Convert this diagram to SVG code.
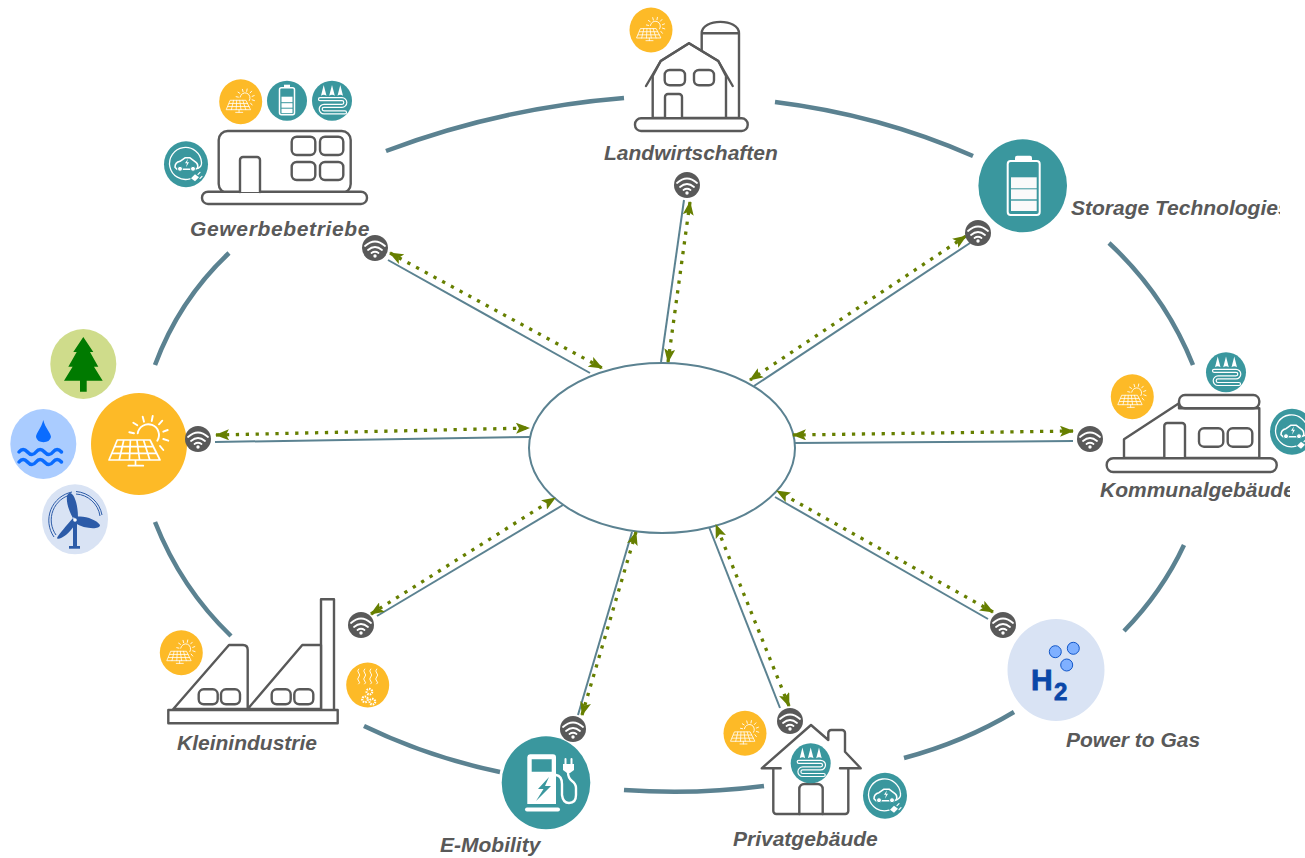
<svg xmlns="http://www.w3.org/2000/svg" width="1305" height="858" viewBox="0 0 1305 858">
<style>
.b{fill:#fff;stroke:#595959;stroke-width:2.4;stroke-linejoin:round;stroke-linecap:round}
.n{fill:none;stroke:#595959;stroke-width:2.4;stroke-linejoin:round;stroke-linecap:round}
.t{font-family:"Liberation Sans",Arial,sans-serif;font-weight:700;font-style:italic;font-size:21px;fill:#595959}
.ring{fill:none;stroke:#5b8291;stroke-width:4.5}
.spoke{fill:none;stroke:#5b8291;stroke-width:2}
.flow{fill:none;stroke:#667f00;stroke-width:3.3;stroke-dasharray:3.3 6.6;marker-start:url(#ah);marker-end:url(#ah)}
.w{fill:none;stroke:#fff;stroke-linecap:round;stroke-linejoin:round}
.wf{fill:#fff}
.h2{font-family:"Liberation Sans",Arial,sans-serif;font-weight:700;fill:#0a47a8;stroke:#0a47a8;stroke-width:.8}
</style>
<defs>
<marker id="ah" markerUnits="userSpaceOnUse" viewBox="0 0 14 11" markerWidth="14" markerHeight="11" refX="13" refY="5.5" orient="auto-start-reverse">
<path d="M0,0 L14,5.5 L0,11 L3,5.5z" fill="#667f00"/>
</marker>
<clipPath id="clipS"><rect x="1060" y="190" width="220" height="40"/></clipPath>
<clipPath id="clipK"><rect x="1090" y="475" width="200" height="35"/></clipPath>
<g id="wifi">
<circle r="13" fill="#595959"/>
<path class="w" stroke-width="1.8" d="M-10,-2 Q0,-11 10,-2M-7,2 Q0,-4 7,2M-3.500,5 Q0,2.500 3.500,5"/>
<circle cy="8" r="1.700" fill="#fff"/>
</g>
<g id="solar">
<path class="w" stroke-width="1.700" d="M-21.700,-4H11L21,16H-30ZM-24.500,2.700H14.300M-27.200,9.300H17.600M-15.200,-4L-19.800,16M-8.600,-4L-9.600,16M-2.100,-4L0.600,16M4.500,-4L10.800,16M-3.500,16V21.700M-10.700,21.700H4.300"/>
<path class="w" stroke-width="1.900" d="M-1.300,-10.700A10.700,10.700 0 1 1 18.300,-3.300M-9.700,-11.700L-5,-10.700M-5.700,-21.300L-1.700,-18.700M3.700,-27.300L5,-22.300M13.700,-28L12.700,-23M23.300,-23.300L20,-19.700M28.700,-14L24.300,-12.300M29.300,-3.300L24.300,-5M24.300,6L21,2"/>
</g>
<g id="solarS">
<ellipse rx="21.500" ry="22.500" fill="#fdba27"/>
<use href="#solar" transform="scale(.47) translate(0,1)"/>
</g>
<g id="heat">
<circle r="20" fill="#3a979e"/>
<path class="wf" d="M-8.300,-15.700L-5.500,-5Q-8.300,-7 -11,-5ZM0,-15.700L2.800,-5Q0,-7 -2.800,-5ZM8.300,-15.700L11,-5Q8.300,-7 5.500,-5Z"/>
<path fill="none" stroke="#fff" stroke-width="4.200" stroke-linecap="round" d="M-12,-1.500H10a3.300,3.300 0 0 1 0,6.600H-8a3.300,3.300 0 0 0 0,6.600H13"/>
<path fill="none" stroke="#3a979e" stroke-width="1.800" stroke-linecap="round" d="M-12,-1.500H10a3.300,3.300 0 0 1 0,6.600H-8a3.300,3.300 0 0 0 0,6.600H13"/>
</g>
<g id="car">
<ellipse rx="22" ry="23" fill="#3a979e"/>
<path class="w" stroke-width="1.300" d="M15.500,-2A16,16 0 1 0 4,14.500"/>
<path class="w" stroke-width="1.300" d="M15.500,-2Q16,2 12,4"/>
<path class="w" stroke-width="1.600" d="M-11,3Q-11,-2 -6,-3L-1,-6.500H4L10,-2Q12.500,0 11.500,4L9,5H-9Z"/>
<circle cx="-6" cy="4.500" r="2.500" fill="#fff" stroke="#3a979e"/>
<circle cx="7" cy="4.500" r="2.500" fill="#fff" stroke="#3a979e"/>
<path fill="#fff" d="M2,-5.500L-1,-1H1L0,3L3,-2H1Z"/>
<path class="wf" d="M5,14L9,10L13,13L9,17Z"/>
<path class="w" stroke-width="1.200" d="M12,10L14,8M14,14L16,12"/>
</g>
</defs>
<rect width="1305" height="858" fill="#fff"/>
<g id="connectors">
<g id="ring">
<path class="ring" d="M386,151Q500,108 624,98"/>
<path class="ring" d="M775,102Q880,115 973,156"/>
<path class="ring" d="M1109,243Q1165,295 1193,365"/>
<path class="ring" d="M1184,545Q1162,592 1124,631"/>
<path class="ring" d="M1014,712Q964,742 904,758"/>
<path class="ring" d="M624,790Q695,795 764,786"/>
<path class="ring" d="M364,726Q428,757 500,772"/>
<path class="ring" d="M155,522Q181,588 231,636"/>
<path class="ring" d="M155,365Q179,300 229,253"/>
</g>
<g id="spokes">
<path class="spoke" d="M388,260L590,373"/>
<path class="spoke" d="M684,200L661,362"/>
<path class="spoke" d="M970,243L754,386"/>
<path class="spoke" d="M1073,441L795,443"/>
<path class="spoke" d="M988,619L775,497"/>
<path class="spoke" d="M780,708L709,527"/>
<path class="spoke" d="M578,715L632,532"/>
<path class="spoke" d="M377,616L563,505"/>
<path class="spoke" d="M215,442L530,437"/>
</g>
</g>
<g id="hub"><ellipse cx="662" cy="448" rx="133" ry="85" fill="#fff" stroke="#5b8291" stroke-width="2"/></g>
<g id="flows">
<path class="flow" d="M390,253L602,368"/>
<path class="flow" d="M690,202L668,362"/>
<path class="flow" d="M966,236L750,380"/>
<path class="flow" d="M1073,431L793,435"/>
<path class="flow" d="M993,612L777,491"/>
<path class="flow" d="M789,706L716,525"/>
<path class="flow" d="M582,715L636,532"/>
<path class="flow" d="M371,614L555,498"/>
<path class="flow" d="M216,435L529,428"/>
</g>
<g id="n-gewerbe">
<use href="#solarS" x="240.700" y="101.700"/>
<g transform="translate(287,100.700)"><circle r="20" fill="#3a979e"/><rect x="-7.500" y="-13" width="15" height="27" rx="2" fill="none" stroke="#fff" stroke-width="1.500"/><rect x="-3" y="-16" width="6" height="3" fill="#fff"/><rect x="-5.500" y="-4" width="11" height="5.500" fill="#fff"/><rect x="-5.500" y="2.500" width="11" height="4.500" fill="#fff"/><rect x="-5.500" y="8" width="11" height="4.500" fill="#fff"/></g>
<use href="#heat" x="332" y="100.700"/>
<use href="#car" x="186" y="164.300"/>
<rect class="b" x="218.700" y="131" width="132" height="62" rx="9"/>
<rect class="b" x="202" y="191.700" width="165" height="12.300" rx="6"/>
<path class="b" d="M240,192V160a3,3 0 0 1 3,-3H257a3,3 0 0 1 3,3V192"/>
<rect class="b" x="291.700" y="136.700" width="23.600" height="18.300" rx="5"/>
<rect class="b" x="320" y="136.700" width="23.300" height="18.300" rx="5"/>
<rect class="b" x="291.700" y="162" width="23.600" height="18" rx="5"/>
<rect class="b" x="320" y="162" width="23.300" height="18" rx="5"/>
<text class="t" x="190" y="236" letter-spacing=".65">Gewerbebetriebe</text>
<use href="#wifi" x="375" y="248"/>
</g>
<g id="n-landwirtschaft">
<use href="#solarS" x="651" y="30"/>
<path class="b" d="M701.700,118V33.300C701.700,18 739,18 739,33.300V118ZM701.700,33.300H739"/>
<path class="b" d="M652.700,118V76L660.700,61L689,43.300L718.300,61L726,76V118Z"/>
<path class="n" d="M646,86L660.700,61L689,43.300L718.300,61L732.700,86"/>
<path class="b" d="M665,118V97a3,3 0 0 1 3,-3H679a3,3 0 0 1 3,3V118"/>
<rect class="b" x="664.700" y="70" width="20.300" height="15.300" rx="5"/>
<rect class="b" x="694" y="70" width="20" height="15.300" rx="5"/>
<rect class="b" x="635" y="118.300" width="112.700" height="12.700" rx="6"/>
<text class="t" x="604" y="160">Landwirtschaften</text>
<use href="#wifi" x="687" y="185"/>
</g>
<g id="n-storage">
<ellipse cx="1022.700" cy="185.700" rx="44.300" ry="46.500" fill="#3a979e"/>
<rect x="1007.700" y="161" width="32" height="54" rx="3" fill="none" stroke="#fff" stroke-width="2"/>
<rect x="1015" y="155.700" width="17" height="5.500" rx="2" fill="#fff"/>
<rect x="1011" y="177.300" width="25.700" height="11" fill="#fafafa"/>
<rect x="1011" y="189.300" width="25.700" height="10" fill="#fafafa"/>
<rect x="1011" y="200.700" width="25.700" height="10.300" fill="#fafafa"/>
<text class="t" x="1071" y="215" clip-path="url(#clipS)">Storage Technologies</text>
<use href="#wifi" x="978" y="233"/>
</g>
<g id="n-kommunal">
<use href="#solarS" x="1132.300" y="396.700"/>
<path class="b" d="M1124,458V439.300L1179,403.300V408.300H1259.300V458Z"/>
<use href="#heat" x="1226" y="372.300"/>
<rect class="b" x="1179" y="395" width="80.300" height="13.300" rx="6"/>
<path class="b" d="M1164.300,458V426a3,3 0 0 1 3,-3H1182a3,3 0 0 1 3,3V458"/>
<rect class="b" x="1199" y="428.300" width="24.300" height="18.400" rx="5"/>
<rect class="b" x="1227.700" y="428.300" width="24.600" height="18.400" rx="5"/>
<rect class="b" x="1106.700" y="458.300" width="170" height="13.700" rx="6.500"/>
<use href="#car" x="1292" y="431.700"/>
<text class="t" x="1100" y="497" clip-path="url(#clipK)">Kommunalgebäude</text>
<use href="#wifi" x="1090" y="439"/>
</g>
<g id="n-power">
<ellipse cx="1056" cy="670" rx="48.500" ry="51" fill="#d9e3f4"/>
<circle cx="1055.300" cy="651.700" r="6" fill="#7fb0ff" stroke="#1257c9" stroke-width="1"/>
<circle cx="1073.300" cy="648.300" r="6" fill="#7fb0ff" stroke="#1257c9" stroke-width="1"/>
<circle cx="1066.700" cy="665" r="6" fill="#7fb0ff" stroke="#1257c9" stroke-width="1"/>
<text class="h2" x="1031" y="689.500" font-size="30">H</text>
<text class="h2" x="1054" y="699.500" font-size="24">2</text>
<text class="t" x="1066" y="747">Power to Gas</text>
<use href="#wifi" x="1003" y="625"/>
</g>
<g id="n-privat">
<use href="#solarS" x="745" y="733.300"/>
<path class="b" d="M761.700,768.300L811,725L828.300,740V733a3,3 0 0 1 3,-3H842a3,3 0 0 1 3,3V751.700L860.700,768.300H848.300V811a3,3 0 0 1 -3,3H776.300a3,3 0 0 1 -3,-3V768.300Z"/>
<path class="n" d="M773.300,768.300H780.700M840,768.300H848.300"/>
<path class="n" d="M799.300,814V789a5,5 0 0 1 5,-5H817.700a5,5 0 0 1 5,5V814"/>
<use href="#heat" x="810.700" y="763.300"/>
<use href="#car" x="885" y="795.700"/>
<text class="t" x="733" y="846">Privatgebäude</text>
<use href="#wifi" x="790" y="721"/>
</g>
<g id="n-emobility">
<ellipse cx="546" cy="782.700" rx="44.300" ry="46.500" fill="#3a979e"/>
<path fill="#fff" fill-rule="evenodd" d="M530,754.300H553a3,3 0 0 1 3,3V804H527.300V757a3,3 0 0 1 2.700,-2.700ZM531.700,759.300V771.700H551.700V759.300Z"/>
<path fill="#3a979e" d="M549,777L538,789H543.500L536,801L551,786H545Z"/>
<rect x="525" y="807.500" width="35" height="4" rx="2" fill="#fff"/>
<path class="w" stroke-width="2.400" d="M556,775Q562,776 562,784V795Q563,803 569,803Q576,803 576,795V788Q576,784 572,781Q568,778 568,772"/>
<path class="wf" d="M563,764H574V770L570,773H567L563,770Z"/>
<path class="w" stroke-width="2" d="M565.500,759V764M571.500,759V764"/>
<text class="t" x="440" y="852">E-Mobility</text>
<use href="#wifi" x="573" y="729"/>
</g>
<g id="n-klein">
<use href="#solarS" x="181.300" y="652.700"/>
<g transform="translate(367.700,685)">
<ellipse rx="21.500" ry="22.500" fill="#fdba27"/>
<path class="w" stroke-width=".9" d="M-9,-16q-2,2 0,4t0,4t0,4t0,3M-3,-16q-2,2 0,4t0,4t0,4t0,3M3,-16q-2,2 0,4t0,4t0,4t0,3M9,-16q-2,2 0,4t0,4t0,4t0,3"/>
<circle cx="1.700" cy="6.700" r="2.800" fill="none" stroke="#fff" stroke-width="2.200" stroke-dasharray="1.500 1"/>
<circle cx="-2.700" cy="14.300" r="2.800" fill="none" stroke="#fff" stroke-width="2.200" stroke-dasharray="1.500 1"/>
<circle cx="4.700" cy="16.700" r="2.800" fill="none" stroke="#fff" stroke-width="2.200" stroke-dasharray="1.500 1"/>
</g>
<rect class="b" x="321" y="599.300" width="13" height="111"/>
<path class="b" d="M173.300,709L229,645H243Q247.700,645 247.700,650V709Z"/>
<path class="b" d="M247.700,709L302.300,645H321V709Z"/>
<rect class="b" x="198.700" y="689.300" width="19" height="15" rx="5"/>
<rect class="b" x="221" y="689.300" width="19" height="15" rx="5"/>
<rect class="b" x="271.700" y="689.300" width="19" height="15" rx="5"/>
<rect class="b" x="294.300" y="689.300" width="19" height="15" rx="5"/>
<rect class="b" x="168.300" y="710" width="169.400" height="13.300"/>
<text class="t" x="177" y="750">Kleinindustrie</text>
<use href="#wifi" x="361" y="625"/>
</g>
<g id="n-solar">
<ellipse cx="139" cy="444" rx="48" ry="51" fill="#fdba27"/>
<use href="#solar" x="139" y="444"/>
<use href="#wifi" x="198" y="439"/>
</g>
<g id="n-tree">
<ellipse cx="83.300" cy="364" rx="33" ry="35" fill="#cfdc8b"/>
<path fill="#007a00" d="M83.300,337L93.300,352H90L98.300,366.700H94L102.700,380.700H86.700V391.700H80V380.700H64L72.600,366.700H68.300L76.700,352H73.300Z"/>
</g>
<g id="n-water">
<ellipse cx="43.300" cy="444" rx="33" ry="35" fill="#aaccff"/>
<path fill="#0a6cff" d="M43.300,420C45,428 51,433 51,437A7.700,6.700 0 0 1 36,437C36,433 41.500,428 43.300,420Z"/>
<path fill="none" stroke="#0a6cff" stroke-width="3.500" stroke-linecap="round" d="M19,452q4,-5 8.500,0t8.500,0t8.500,0t8.500,0t8.500,0M19,462q4,-5 8.500,0t8.500,0t8.500,0t8.500,0t8.500,0"/>
</g>
<g id="n-wind">
<ellipse cx="75" cy="519.300" rx="33" ry="35" fill="#d9e3f4"/>
<path fill="none" stroke="#2c5ba8" stroke-width="1" d="M56,535A26,26 0 0 1 72,494.500M76,494A26,26 0 0 1 100,516M54,537A29,29 0 0 1 72,492M76,491.500A29,29 0 0 1 102,515"/>
<rect x="73" y="520" width="4" height="26" fill="#2c5ba8"/>
<rect x="69" y="546" width="11" height="2.700" fill="#2c5ba8"/>
<path fill="#2c5ba8" d="M74,520C68,510 65,498 68,494C72,490 78,500 78,518ZM76,517C84,515 97,520 100,525C100,530 84,529 75,523ZM74,517C66,526 59,534 57,538C58,541 68,536 76,523Z"/>
<circle cx="75" cy="520" r="1.800" fill="#fff"/>
</g>
</svg>
